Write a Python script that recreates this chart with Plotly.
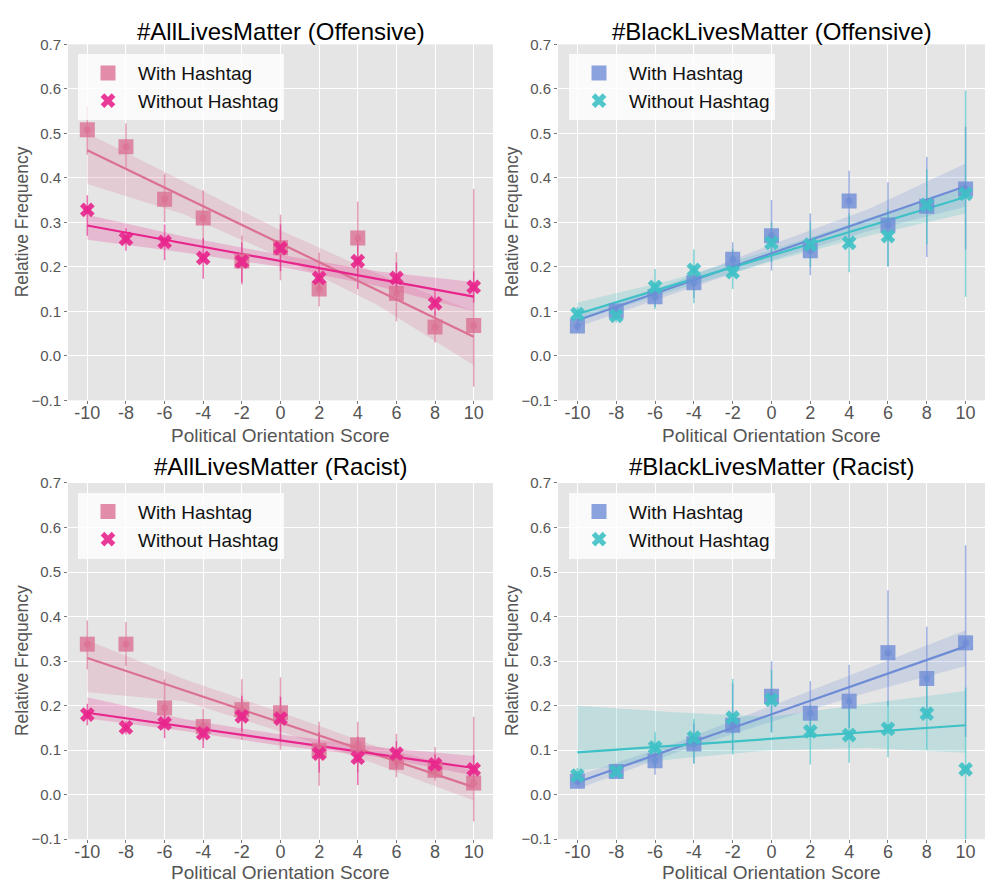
import plotly.graph_objects as go

# ---------------- data ----------------
scores = [-10, -8, -6, -4, -2, 0, 2, 4, 6, 8, 10]
x_tick_text = ["-10", "-8", "-6", "-4", "-2", "0", "2", "4", "6", "8", "10"]
y_ticks = [-0.1, 0.0, 0.1, 0.2, 0.3, 0.4, 0.5, 0.6, 0.7]
fit_x = [-10, 10]
band_x = [-10, -5, 0, 5, 10]

titles = ["#AllLivesMatter (Offensive)", "#BlackLivesMatter (Offensive)",
          "#AllLivesMatter (Racist)", "#BlackLivesMatter (Racist)"]
series_names = ["With Hashtag", "Without Hashtag"]
x_title = "Political Orientation Score"
y_title = "Relative Frequency"

# #AllLivesMatter (Offensive)
ao_with = [0.508, 0.470, 0.352, 0.310, 0.213, 0.243, 0.150, 0.265, 0.140, 0.065, 0.068]
ao_with_lo = [0.452, 0.423, 0.300, 0.250, 0.160, 0.170, 0.111, 0.185, 0.078, 0.030, -0.069]
ao_with_hi = [0.560, 0.522, 0.408, 0.372, 0.270, 0.317, 0.232, 0.347, 0.233, 0.100, 0.375]
ao_without = [0.328, 0.263, 0.256, 0.220, 0.212, 0.242, 0.175, 0.213, 0.175, 0.118, 0.155]
ao_without_lo = [0.270, 0.236, 0.215, 0.173, 0.165, 0.190, 0.150, 0.150, 0.140, 0.090, 0.120]
ao_without_hi = [0.361, 0.287, 0.295, 0.265, 0.255, 0.295, 0.200, 0.260, 0.210, 0.148, 0.190]
ao_with_fit = [0.462, 0.043]
ao_without_fit = [0.293, 0.133]
ao_with_band_lo = [0.386, 0.318, 0.222, 0.115, -0.021]
ao_with_band_hi = [0.500, 0.392, 0.282, 0.185, 0.100]
ao_without_band_lo = [0.261, 0.232, 0.200, 0.157, 0.100]
ao_without_band_hi = [0.317, 0.268, 0.227, 0.190, 0.166]

# #BlackLivesMatter (Offensive)
bo_with = [0.067, 0.101, 0.133, 0.164, 0.217, 0.270, 0.236, 0.348, 0.294, 0.336, 0.375]
bo_with_lo = [0.055, 0.090, 0.110, 0.130, 0.180, 0.192, 0.181, 0.260, 0.201, 0.222, 0.239]
bo_with_hi = [0.080, 0.112, 0.160, 0.200, 0.255, 0.350, 0.320, 0.416, 0.390, 0.447, 0.515]
bo_without = [0.094, 0.090, 0.155, 0.193, 0.188, 0.254, 0.250, 0.254, 0.269, 0.339, 0.364]
bo_without_lo = [0.080, 0.075, 0.105, 0.118, 0.150, 0.210, 0.200, 0.188, 0.201, 0.250, 0.133]
bo_without_hi = [0.110, 0.105, 0.195, 0.239, 0.240, 0.300, 0.300, 0.320, 0.330, 0.420, 0.596]
bo_with_fit = [0.080, 0.381]
bo_without_fit = [0.094, 0.357]
bo_with_band_lo = [0.065, 0.140, 0.215, 0.280, 0.335]
bo_with_band_hi = [0.095, 0.165, 0.250, 0.330, 0.432]
bo_without_band_lo = [0.078, 0.147, 0.212, 0.270, 0.320]
bo_without_band_hi = [0.120, 0.172, 0.238, 0.310, 0.378]

# #AllLivesMatter (Racist)
ar_with = [0.338, 0.338, 0.195, 0.153, 0.191, 0.184, 0.100, 0.112, 0.073, 0.055, 0.026]
ar_with_lo = [0.281, 0.289, 0.170, 0.120, 0.123, 0.101, 0.020, 0.050, 0.039, 0.032, -0.060]
ar_with_hi = [0.391, 0.388, 0.259, 0.193, 0.259, 0.263, 0.164, 0.164, 0.137, 0.107, 0.175]
ar_without = [0.180, 0.151, 0.160, 0.138, 0.176, 0.171, 0.092, 0.083, 0.092, 0.068, 0.057]
ar_without_lo = [0.156, 0.135, 0.127, 0.105, 0.142, 0.120, 0.050, 0.022, 0.060, 0.050, 0.030]
ar_without_hi = [0.204, 0.165, 0.190, 0.170, 0.222, 0.220, 0.140, 0.130, 0.120, 0.090, 0.090]
ar_with_fit = [0.307, 0.017]
ar_without_fit = [0.184, 0.060]
ar_with_band_lo = [0.230, 0.210, 0.142, 0.068, -0.013]
ar_with_band_hi = [0.347, 0.260, 0.185, 0.108, 0.054]
ar_without_band_lo = [0.171, 0.143, 0.110, 0.085, 0.043]
ar_without_band_hi = [0.219, 0.170, 0.135, 0.107, 0.087]

# #BlackLivesMatter (Racist)
br_with = [0.030, 0.052, 0.076, 0.114, 0.156, 0.221, 0.183, 0.210, 0.319, 0.261, 0.341]
br_with_lo = [0.020, 0.040, 0.045, 0.070, 0.100, 0.140, 0.130, 0.150, 0.200, 0.170, 0.130]
br_with_hi = [0.040, 0.065, 0.105, 0.160, 0.250, 0.300, 0.255, 0.292, 0.459, 0.377, 0.560]
br_without = [0.043, 0.052, 0.106, 0.128, 0.173, 0.213, 0.142, 0.134, 0.148, 0.182, 0.057]
br_without_lo = [0.030, 0.040, 0.060, 0.070, 0.090, 0.140, 0.068, 0.072, 0.084, 0.101, -0.150]
br_without_hi = [0.060, 0.065, 0.140, 0.170, 0.260, 0.280, 0.200, 0.220, 0.211, 0.270, 0.241]
br_with_fit = [0.028, 0.333]
br_without_fit = [0.095, 0.156]
br_with_band_lo = [0.013, 0.093, 0.164, 0.230, 0.289]
br_with_band_hi = [0.043, 0.115, 0.200, 0.285, 0.369]
br_without_band_lo = [0.054, 0.080, 0.100, 0.105, 0.094]
br_without_band_hi = [0.200, 0.185, 0.175, 0.205, 0.233]

# ---------------- styling ----------------
FONT = "Liberation Sans, Arial, sans-serif"
PINK = (219, 112, 147)
HOTPINK = (232, 37, 140)
BLUE = (110, 140, 214)
TEAL = (62, 193, 198)


def rgba(c, a):
    return "rgba(%d,%d,%d,%.3f)" % (c[0], c[1], c[2], a)


W, H = 990, 890
x_dom = [[68 / W, 493 / W], [558 / W, 985 / W]]
y_dom = [[1 - 399 / H, 1 - 36 / H], [1 - 846.4 / H, 1 - 483.2 / H]]

panels = [
    dict(w=ao_with, wlo=ao_with_lo, whi=ao_with_hi, wo=ao_without, wolo=ao_without_lo, wohi=ao_without_hi,
         wfit=ao_with_fit, wofit=ao_without_fit, wblo=ao_with_band_lo, wbhi=ao_with_band_hi,
         woblo=ao_without_band_lo, wobhi=ao_without_band_hi, c1=PINK, c2=HOTPINK),
    dict(w=bo_with, wlo=bo_with_lo, whi=bo_with_hi, wo=bo_without, wolo=bo_without_lo, wohi=bo_without_hi,
         wfit=bo_with_fit, wofit=bo_without_fit, wblo=bo_with_band_lo, wbhi=bo_with_band_hi,
         woblo=bo_without_band_lo, wobhi=bo_without_band_hi, c1=BLUE, c2=TEAL),
    dict(w=ar_with, wlo=ar_with_lo, whi=ar_with_hi, wo=ar_without, wolo=ar_without_lo, wohi=ar_without_hi,
         wfit=ar_with_fit, wofit=ar_without_fit, wblo=ar_with_band_lo, wbhi=ar_with_band_hi,
         woblo=ar_without_band_lo, wobhi=ar_without_band_hi, c1=PINK, c2=HOTPINK),
    dict(w=br_with, wlo=br_with_lo, whi=br_with_hi, wo=br_without, wolo=br_without_lo, wohi=br_without_hi,
         wfit=br_with_fit, wofit=br_without_fit, wblo=br_with_band_lo, wbhi=br_with_band_hi,
         woblo=br_without_band_lo, wobhi=br_without_band_hi, c1=BLUE, c2=TEAL),
]

fig = go.Figure()
layout = dict(width=W, height=H, margin=dict(l=0, r=0, t=0, b=0),
              paper_bgcolor="white", plot_bgcolor="#e5e5e5",
              font=dict(family=FONT, color="#555555"), annotations=[])

for i, p in enumerate(panels):
    col, row = i % 2, i // 2
    sfx = "" if i == 0 else str(i + 1)
    xa, ya = "x" + sfx, "y" + sfx
    leg = "legend" + sfx
    c1, c2 = p["c1"], p["c2"]

    # confidence bands
    for lo, hi, c in [(p["wblo"], p["wbhi"], c1), (p["woblo"], p["wobhi"], c2)]:
        fig.add_trace(go.Scatter(x=band_x + band_x[::-1], y=hi + lo[::-1], fill="toself",
                                 fillcolor=rgba(c, 0.22), line=dict(width=0), mode="lines",
                                 hoverinfo="skip", showlegend=False, xaxis=xa, yaxis=ya))
    # error bars with estimator dots
    for vals, lo, hi, c in [(p["w"], p["wlo"], p["whi"], c1), (p["wo"], p["wolo"], p["wohi"], c2)]:
        fig.add_trace(go.Scatter(
            x=scores, y=vals, mode="markers",
            marker=dict(size=7, color=rgba(c, 0.7)),
            error_y=dict(type="data", symmetric=False,
                         array=[h - v for h, v in zip(hi, vals)],
                         arrayminus=[v - l for l, v in zip(lo, vals)],
                         width=0, thickness=1.5, color=rgba(c, 0.65)),
            showlegend=False, xaxis=xa, yaxis=ya))
    # regression lines
    for fit, c in [(p["wfit"], c1), (p["wofit"], c2)]:
        fig.add_trace(go.Scatter(x=fit_x, y=fit, mode="lines", line=dict(color=rgba(c, 1), width=2.2),
                                 showlegend=False, xaxis=xa, yaxis=ya))
    # markers
    fig.add_trace(go.Scatter(x=scores, y=p["w"], mode="markers", name=series_names[0],
                             marker=dict(symbol="square", size=15, color=rgba(c1, 0.8), line=dict(width=0)),
                             legend=leg, xaxis=xa, yaxis=ya))
    fig.add_trace(go.Scatter(x=scores, y=p["wo"], mode="markers", name=series_names[1],
                             marker=dict(symbol="x", size=13, color=rgba(c2, 0.9), line=dict(width=0)),
                             legend=leg, xaxis=xa, yaxis=ya))

    layout["xaxis" + sfx] = dict(domain=x_dom[col], anchor=ya, range=[-11, 11],
                                 tickvals=scores, ticktext=x_tick_text,
                                 tickfont=dict(size=18, color="#555555"),
                                 ticks="outside", ticklen=3, tickcolor="#777777",
                                 ticklabelstandoff=-7,
                                 showgrid=True, gridcolor="white", gridwidth=1.3, zeroline=False,
                                 showline=False)
    layout["yaxis" + sfx] = dict(domain=y_dom[row], anchor=xa, range=[-0.1, 0.7],
                                 tickvals=y_ticks, tickformat=".1f",
                                 tickfont=dict(size=15, color="#555555"),
                                 ticks="outside", ticklen=3, tickcolor="#777777",
                                 showgrid=True, gridcolor="white", gridwidth=1.3, zeroline=False,
                                 showline=False)
    lx = (78 if col == 0 else 569) / W
    ly = 1 - (46 if row == 0 else 493) / H
    layout[leg] = dict(x=lx, y=ly, xanchor="left", yanchor="top", xref="paper", yref="paper",
                       bgcolor="rgba(255,255,255,0.8)", borderwidth=0,
                       font=dict(size=19, color="#111111", family=FONT),
                       itemwidth=50, tracegroupgap=2)
    cx = (x_dom[col][0] + x_dom[col][1]) / 2
    ty = 1 - (23 if row == 0 else 466) / H
    layout["annotations"].append(dict(text=titles[i], x=cx, y=ty, xref="paper", yref="paper",
                                      xanchor="center", yanchor="middle", showarrow=False,
                                      font=dict(size=24, color="black", family=FONT)))
    # axis titles
    xty = 1 - (435 if row == 0 else 880) / H
    layout["annotations"].append(dict(text=x_title, x=cx, y=xty, xref="paper", yref="paper",
                                      xanchor="center", yanchor="middle", showarrow=False,
                                      font=dict(size=19, color="#555555", family=FONT)))
    ytx = (22 if col == 0 else 512) / W
    cy = (y_dom[row][0] + y_dom[row][1]) / 2
    layout["annotations"].append(dict(text=y_title, x=ytx, y=cy, xref="paper", yref="paper",
                                      xanchor="center", yanchor="middle", showarrow=False,
                                      textangle=-90,
                                      font=dict(size=17.5, color="#555555", family=FONT)))

fig.update_layout(**layout)
fig.write_html("out.html", config={"displayModeBar": False},
               post_script="document.body.style.margin='0';")
